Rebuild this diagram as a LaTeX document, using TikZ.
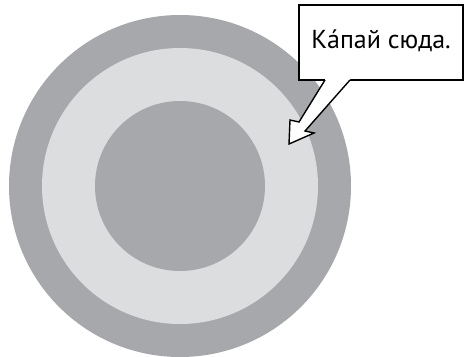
\documentclass[tikz,border=0pt]{standalone}
\usepackage{fontspec}
\setmainfont{PT Sans}
\usepackage{tikz}

\definecolor{ringdark}{HTML}{A7A8AB}
\definecolor{ringlight}{HTML}{DCDDDF}

\begin{document}
\begin{tikzpicture}[x=1pt, y=-1pt]
                \useasboundingbox (0,0) rectangle (465,356);

                % Nodes
                \node[circle, fill=ringdark, inner sep=0, minimum size=342pt] (outer) at (180,186) {};
                \node[circle, fill=ringlight, inner sep=0, minimum size=276pt] (middle) at (180,186) {};
                \node[circle, fill=ringdark, inner sep=0, minimum size=170pt] (inner) at (180,186) {};
                \node[draw, line width=1.4pt, fill=white, minimum width=164pt, minimum height=75pt,
                      text height=17pt, text depth=6pt,
                      font=\fontsize{26}{28}\selectfont] (note) at (381,42.5) {Ка́пай сюда.};

                % Edges
                \coordinate (a) at (325,80);
                \coordinate (b) at (299,122);
                \coordinate (c) at (290,120);
                \coordinate (d) at (289,144);
                \coordinate (e) at (314,133);
                \coordinate (f) at (305,131);
                \coordinate (g) at (350,80);
                \fill[white] (325,77) -- (a) -- (b) -- (c) -- (d) -- (e) -- (f) -- (g) -- (350,77) -- cycle;
                \draw[line width=1.4pt, line join=miter] (a) -- (b) -- (c) -- (d) -- (e) -- (f) -- (g);
            \end{tikzpicture}
\end{document}
